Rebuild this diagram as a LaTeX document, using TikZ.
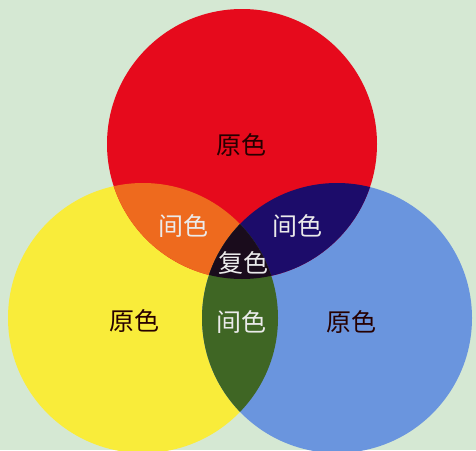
\documentclass[tikz,border=0pt]{standalone}
\usepackage{fontspec}
\newfontfamily\cjk{Noto Sans CJK SC}
\usetikzlibrary{positioning}
\definecolor{bgmint}{HTML}{D5E8D3}
\definecolor{pred}{HTML}{E60A1C}
\definecolor{pyellow}{HTML}{F9EC3A}
\definecolor{pblue}{HTML}{6A95DE}
\definecolor{sorange}{HTML}{EE6A1E}
\definecolor{snavy}{HTML}{1C0C6A}
\definecolor{sgreen}{HTML}{3F6624}
\definecolor{tdark}{HTML}{1A0C1C}

\begin{document}
\begin{tikzpicture}[x=1pt,y=-1pt,
    lbl/.style={font=\cjk\fontsize{25}{25}\selectfont,inner sep=0pt},
    primary/.style={lbl,text=black!85!red},
    mixed/.style={lbl,text=white!92!black}]
    \useasboundingbox (0,0) rectangle (476,450);
    \clip (0,0) rectangle (476,450);
    \fill[bgmint] (0,0) rectangle (476,450);
    \coordinate (c_r) at (242,144);
    \coordinate (c_y) at (143,318);
    \coordinate (c_b) at (337,318);
    % three primaries
    \fill[pyellow] (c_y) circle (135pt);
    \fill[pblue]   (c_b) circle (135pt);
    \fill[pred]    (c_r) circle (135pt);
    % overlaps
    \begin{scope}
      \clip (c_r) circle (135pt);
      \fill[sorange] (c_y) circle (135pt);
      \fill[snavy]   (c_b) circle (135pt);
    \end{scope}
    \begin{scope}
      \clip (c_y) circle (135pt);
      \fill[sgreen] (c_b) circle (135pt);
      \clip (c_r) circle (135pt);
      \fill[tdark] (c_b) circle (135pt);
    \end{scope}
    \node[primary] (p_r) at (241,145) {原色};
    \node[primary] (p_y) at (134,321) {原色};
    \node[primary] (p_b) at (351,322) {原色};
    \node[mixed] (m_ry) at (183,226) {间色};
    \node[mixed] (m_rb) at (297,226) {间色};
    \node[mixed] (m_yb) at (241,322) {间色};
    \node[mixed] (t_all) at (243,263) {复色};
\end{tikzpicture}
\end{document}
